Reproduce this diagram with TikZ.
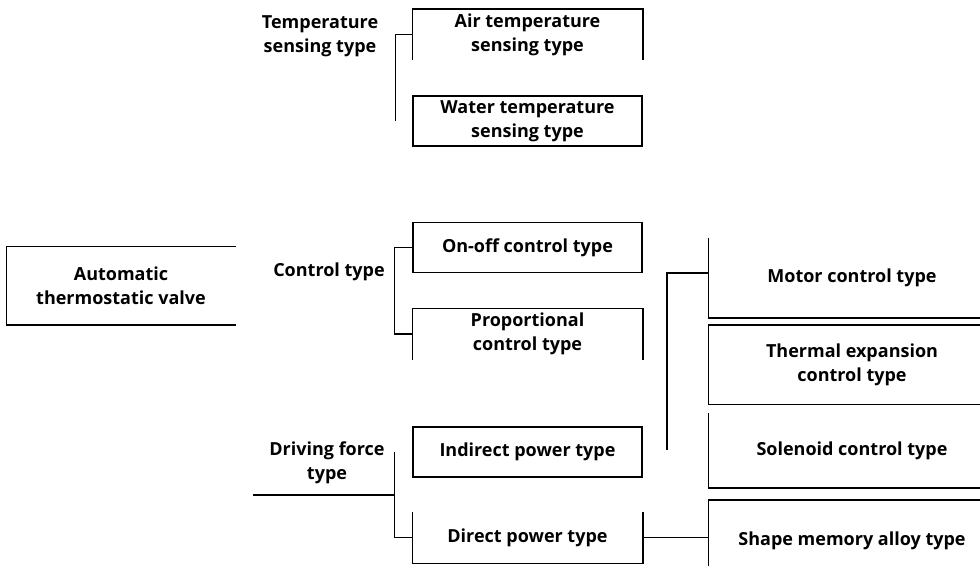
\documentclass[tikz,border=0pt]{standalone}
\usepackage{fontspec}
\setmainfont{Open Sans}
\usetikzlibrary{positioning}

\begin{document}
\begin{tikzpicture}[x=1pt, y=-1pt, line width=1.5pt,
  every node/.style={font=\fontsize{18}{24}\selectfont\bfseries, align=center, inner sep=0pt},
  typebox/.style={minimum width=229pt, minimum height=50pt},
  subbox/.style={minimum width=286pt, minimum height=78pt}]
  \useasboundingbox (0,0) rectangle (980,565);
  \clip (0,0) rectangle (980,565);

  % Root of the classification
  \node[minimum width=228pt, minimum height=77pt] (auto) at (121,285.5) {Automatic\\thermostatic valve};
  \draw (auto.north east) -- (auto.north west) -- (auto.south west) -- (auto.south east);

  % Group labels
  \node (temp)  at (320,36)  {Temperature\\sensing type};
  \node (ctrl)  at (329,272) {Control type};
  \node (drive) at (327,463) {Driving force\\type};

  % Temperature sensing types
  \node[typebox] (air) at (527.5,34.5) {Air temperature\\sensing type};
  \node[typebox, draw, below=35pt of air] (water) {Water temperature\\sensing type};
  \draw (air.south west) -- (air.north west) -- (air.north east) -- (air.south east);

  % Control types
  \node[typebox, draw] (onoff) at (527.5,247.5) {On-off control type};
  \node[typebox, below=35pt of onoff] (prop) {Proportional\\control type};
  \draw (prop.south west) -- (prop.north west) -- (prop.north east) -- (prop.south east);

  % Driving force types
  \node[typebox, draw] (indirect) at (527.5,452) {Indirect power type};
  \node[typebox, below=34pt of indirect] (direct) {Direct power type};
  \draw (direct.north west) -- (direct.south west) -- (direct.south east) -- (direct.north east);

  % Indirect power sub-types
  \node[subbox] (motor) at (852,278) {Motor control type};
  \node[subbox, below=7pt of motor] (thermal) {Thermal expansion\\control type};
  \node[subbox, minimum height=73pt, below=9pt of thermal] (solenoid) {Solenoid control type};
  \node[subbox, minimum height=80pt, below=12pt of solenoid] (shape) {Shape memory alloy type};
  \draw (motor.north west) -- (motor.south west) -- (motor.south east);
  \draw (thermal.north east) -- (thermal.north west) -- (thermal.south west) -- (thermal.south east);
  \draw (solenoid.north west) -- (solenoid.south west) -- (solenoid.south east);
  \draw (shape.north east) -- (shape.north west) -- (shape.south west);

  % Brackets
  \draw (air.west) -- ++(-17,0) coordinate (tbus) -- (tbus |- water.west);
  \draw (onoff.west) -- ++(-18,0) |- (prop.west);

  \coordinate (dbus)  at ([xshift=-18pt]indirect.west);
  \coordinate (dstub) at (253,495);
  \draw (dbus) |- (direct.west);
  \draw (dstub) -- (dstub -| dbus);

  \coordinate (ibus) at ([xshift=24pt,yshift=2pt]indirect.east);
  \draw (ibus) |- ([yshift=5pt]motor.west);
  \draw (direct.east) -- (direct.east -| shape.west);
\end{tikzpicture}
\end{document}
